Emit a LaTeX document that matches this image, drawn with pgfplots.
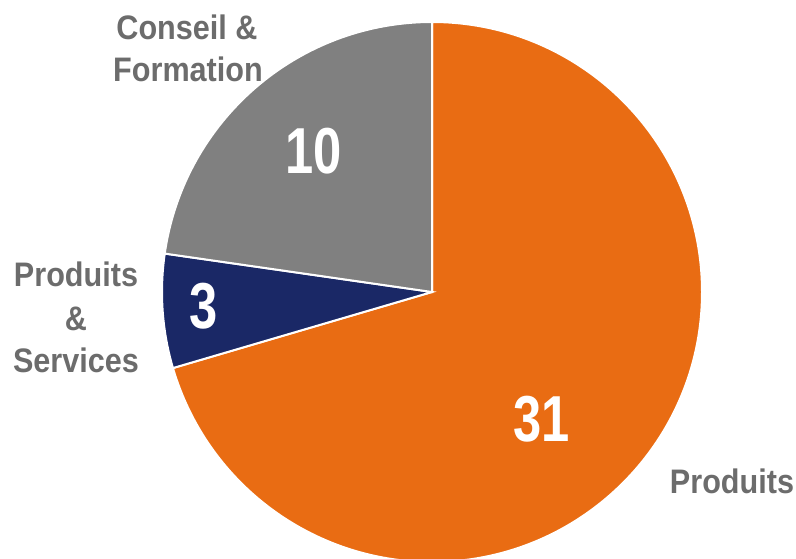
\documentclass[border=0pt]{standalone}
\usepackage{pgfplots}
\usepackage{pgfplotstable}
\pgfplotsset{compat=1.18}
\usepackage{fontspec}
\setmainfont{Liberation Sans}
\newfontfamily\lblfont{Liberation Sans}[FakeStretch=0.9]
\newfontfamily\numfont{Liberation Sans}[FakeStretch=0.78]

\definecolor{cOrange}{RGB}{233,108,19}
\definecolor{cNavy}{RGB}{26,40,102}
\definecolor{cGray}{RGB}{128,128,128}
\definecolor{cText}{RGB}{108,108,108}

% slices, clockwise from twelve o'clock
\pgfplotstableread[col sep=comma]{
name,value
Produits,31
ProdServ,3
Conseil,10
}\piedata

\begin{document}
\begin{tikzpicture}
\pgfplotstablegetelem{0}{value}\of\piedata \let\va\pgfplotsretval
\pgfplotstablegetelem{1}{value}\of\piedata \let\vb\pgfplotsretval
\pgfplotstablegetelem{2}{value}\of\piedata \let\vc\pgfplotsretval
\pgfmathsetmacro{\tot}{\va+\vb+\vc}
\pgfmathsetmacro{\aA}{90}
\pgfmathsetmacro{\aB}{\aA-360*\va/\tot}
\pgfmathsetmacro{\aC}{\aB-360*\vb/\tot}
\pgfmathsetmacro{\aD}{\aC-360*\vc/\tot}
\begin{axis}[
  width=796pt, height=559pt, scale only axis,
  xmin=0, xmax=796, ymin=0, ymax=559,
  y dir=reverse,
  hide axis,
]
\coordinate (SW) at (axis cs:0,559);
\coordinate (NE) at (axis cs:796,0);
\coordinate (C) at (axis cs:432,292);
\fill[cOrange, draw=white, line width=2pt] (C) -- ++(\aA:270pt) arc[start angle=\aA, end angle=\aB, radius=270pt] -- cycle;
\fill[cNavy, draw=white, line width=2pt] (C) -- ++(\aB:270pt) arc[start angle=\aB, end angle=\aC, radius=270pt] -- cycle;
\fill[cGray, draw=white, line width=2pt] (C) -- ++(\aC:270pt) arc[start angle=\aC, end angle=\aD, radius=270pt] -- cycle;
% values
\node[white, font=\numfont\bfseries\fontsize{65}{70}\selectfont] at (axis cs:542,419) {\va};
\node[white, font=\numfont\bfseries\fontsize{65}{70}\selectfont] at (axis cs:204,306) {\vb};
\node[white, font=\numfont\bfseries\fontsize{65}{70}\selectfont] at (axis cs:314,151) {\vc};
% category labels
\tikzset{lbl/.style={cText, anchor=base, inner sep=0pt, font=\lblfont\bfseries\fontsize{34}{40}\selectfont}}
\node[lbl] at (axis cs:187,40) {Conseil \&};
\node[lbl] at (axis cs:188,82) {Formation};
\node[lbl] at (axis cs:76,287) {Produits};
\node[lbl] at (axis cs:76,330) {\&};
\node[lbl] at (axis cs:76,372) {Services};
\node[lbl] at (axis cs:732,493) {Produits};
\end{axis}
\pgfresetboundingbox
\path[use as bounding box] (SW) rectangle (NE);
\end{tikzpicture}
\end{document}
